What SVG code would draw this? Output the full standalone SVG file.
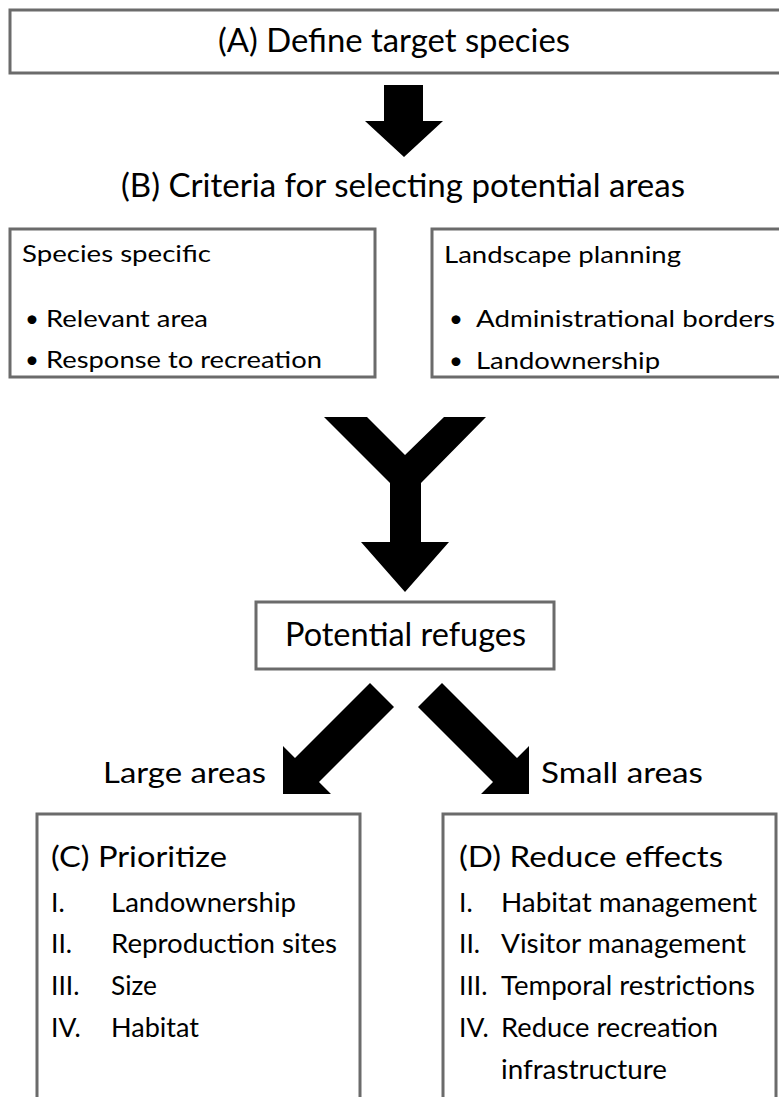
<svg xmlns="http://www.w3.org/2000/svg" width="779" height="1097" viewBox="0 0 779 1097">
<style>
.box{fill:#ffffff;stroke:#6b6b6b;stroke-width:3}
.t{font-family:Lato,"Open Sans","Liberation Sans",sans-serif;fill:#000000}
.big{font-size:32px}
.mid{font-size:29px}
.sm{font-size:24px}
.it{font-size:26.5px}
.arr{fill:#000000}
</style>
<rect x="0" y="0" width="779" height="1097" fill="#ffffff"/>
<g id="connectors">
<polygon class="arr" points="384,85 423,85 423,121 443,121 404,157 365,121 384,121"/>
<polygon class="arr" points="324,417 367,417 405,455 444,417 486,417 421,483 421,542 449,542 405,592 361,542 390,542 390,483"/>
<polygon class="arr" points="370,683 295,758 283,746 283,794 331,794 319,782 394,707"/>
<polygon class="arr" points="442,683 517,758 529,746 529,794 481,794 493,782 418,707"/>
</g>
<g id="nodeA">
<rect class="box" x="10" y="10" width="780" height="63"/>
<text class="t big" x="218" y="52" textLength="352" lengthAdjust="spacingAndGlyphs">(A) Define target species</text>
</g>
<g id="nodeB">
<text class="t big" x="121" y="197" textLength="564" lengthAdjust="spacingAndGlyphs">(B) Criteria for selecting potential areas</text>
</g>
<g id="nodeSpecies">
<rect class="box" x="10" y="229" width="365" height="148"/>
<text class="t sm" x="22" y="262" textLength="189" lengthAdjust="spacingAndGlyphs">Species specific</text>
<text class="t sm" x="25" y="327">•</text>
<text class="t sm" x="46" y="327" textLength="162" lengthAdjust="spacingAndGlyphs">Relevant area</text>
<text class="t sm" x="25" y="368">•</text>
<text class="t sm" x="46" y="368" textLength="276" lengthAdjust="spacingAndGlyphs">Response to recreation</text>
</g>
<g id="nodeLandscape">
<rect class="box" x="432" y="229" width="360" height="148"/>
<text class="t sm" x="444" y="263" textLength="237" lengthAdjust="spacingAndGlyphs">Landscape planning</text>
<text class="t sm" x="449" y="327">•</text>
<text class="t sm" x="476" y="327" textLength="299" lengthAdjust="spacingAndGlyphs">Administrational borders</text>
<text class="t sm" x="449" y="369">•</text>
<text class="t sm" x="476" y="369" textLength="184" lengthAdjust="spacingAndGlyphs">Landownership</text>
</g>
<g id="nodeRefuges">
<rect class="box" x="256" y="602" width="298" height="67"/>
<text class="t big" x="285" y="646" textLength="241" lengthAdjust="spacingAndGlyphs">Potential refuges</text>
</g>
<g id="labelLarge">
<text class="t mid" x="103" y="783" textLength="163" lengthAdjust="spacingAndGlyphs">Large areas</text>
</g>
<g id="labelSmall">
<text class="t mid" x="541" y="783" textLength="162" lengthAdjust="spacingAndGlyphs">Small areas</text>
</g>
<g id="nodeC">
<rect class="box" x="37" y="814" width="323" height="300"/>
<text class="t mid" x="51" y="867" textLength="176" lengthAdjust="spacingAndGlyphs">(C) Prioritize</text>
<text class="t it" x="51" y="912">I.</text>
<text class="t it" x="111" y="912" textLength="185" lengthAdjust="spacingAndGlyphs">Landownership</text>
<text class="t it" x="51" y="953">II.</text>
<text class="t it" x="111" y="953" textLength="226" lengthAdjust="spacingAndGlyphs">Reproduction sites</text>
<text class="t it" x="51" y="995">III.</text>
<text class="t it" x="111" y="995" textLength="46" lengthAdjust="spacingAndGlyphs">Size</text>
<text class="t it" x="51" y="1037">IV.</text>
<text class="t it" x="111" y="1037" textLength="88" lengthAdjust="spacingAndGlyphs">Habitat</text>
</g>
<g id="nodeD">
<rect class="box" x="443" y="814" width="333" height="300"/>
<text class="t mid" x="459" y="867" textLength="264" lengthAdjust="spacingAndGlyphs">(D) Reduce effects</text>
<text class="t it" x="459" y="912">I.</text>
<text class="t it" x="501" y="912" textLength="256" lengthAdjust="spacingAndGlyphs">Habitat management</text>
<text class="t it" x="459" y="953">II.</text>
<text class="t it" x="501" y="953" textLength="245" lengthAdjust="spacingAndGlyphs">Visitor management</text>
<text class="t it" x="459" y="995">III.</text>
<text class="t it" x="501" y="995" textLength="254" lengthAdjust="spacingAndGlyphs">Temporal restrictions</text>
<text class="t it" x="459" y="1037">IV.</text>
<text class="t it" x="501" y="1037" textLength="217" lengthAdjust="spacingAndGlyphs">Reduce recreation</text>
<text class="t it" x="501" y="1079" textLength="166" lengthAdjust="spacingAndGlyphs">infrastructure</text>
</g>
</svg>
